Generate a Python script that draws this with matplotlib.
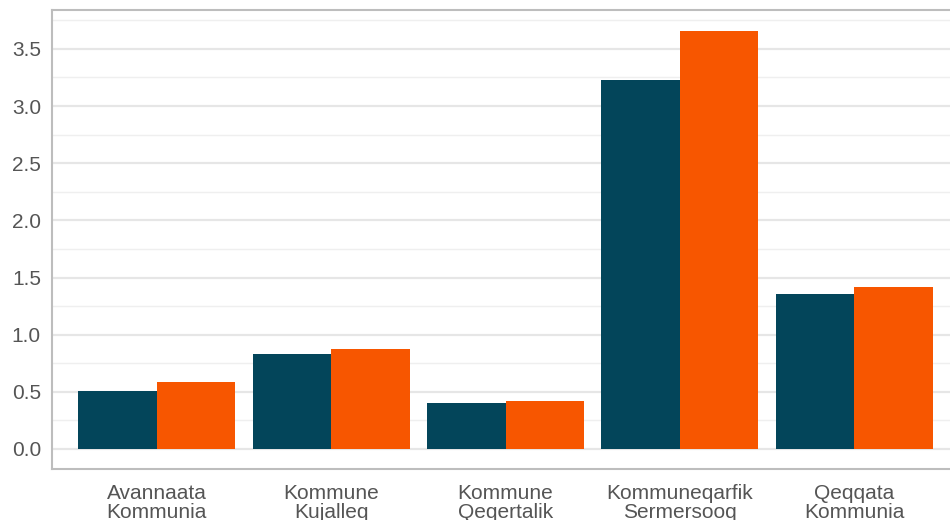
import numpy as np
import matplotlib.pyplot as plt
from matplotlib.ticker import MultipleLocator

# kommuner og værdier
kommuner = ['Avannaata\nKommunia', 'Kommune\nKujalleq', 'Kommune\nQeqertalik',
            'Kommuneqarfik\nSermersooq', 'Qeqqata\nKommunia']
serie1 = [0.51, 0.83, 0.40, 3.23, 1.356]
serie2 = [0.586, 0.875, 0.42, 3.66, 1.417]

farve1 = '#03455a'
farve2 = '#f75600'

plt.rcParams['font.family'] = ['Liberation Sans', 'DejaVu Sans']

fig = plt.figure(figsize=(9.5, 5.2), dpi=100)
ax = fig.add_axes([52/950, 1 - 469/520, 907/950, 459/520])

x = np.arange(len(kommuner))
w = 0.45
ax.bar(x - w/2, serie1, width=w, color=farve1, zorder=3)
ax.bar(x + w/2, serie2, width=w, color=farve2, zorder=3)

ax.set_xlim(-0.6, len(kommuner) - 0.4)
ax.set_ylim(-0.175, 3.84)
ax.yaxis.set_major_locator(MultipleLocator(0.5))
ax.yaxis.set_minor_locator(MultipleLocator(0.25))
ax.yaxis.set_major_formatter(lambda v, p: '%.1f' % v)
ax.grid(which='major', axis='y', color='#e6e6e6', lw=1.6, zorder=0)
ax.grid(which='minor', axis='y', color='#efefef', lw=1.0, zorder=0)

ax.set_xticks(x)
ax.set_xticklabels(kommuner, linespacing=1.0)
ax.tick_params(axis='both', which='both', length=0, labelsize=15, colors='#555555')
ax.tick_params(axis='x', pad=11)
ax.tick_params(axis='y', pad=8)

for s in ax.spines.values():
    s.set_color('#bdbdbd')
    s.set_linewidth(1.5)

fig.savefig('out.png', dpi=100)
